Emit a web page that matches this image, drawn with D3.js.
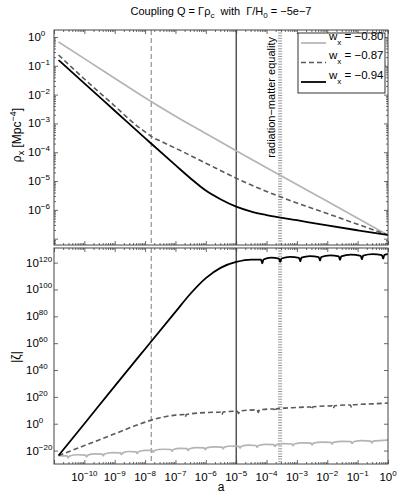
<!DOCTYPE html>
<html>
<head>
<meta charset="utf-8">
<script src="https://cdn.jsdelivr.net/npm/d3@7"></script>
<style>
body { margin: 0; background: #fff; }
text { font-family: "Liberation Sans", Arial, Helvetica, sans-serif; fill: #000; }
</style>
</head>
<body>
<div id="chart-area"></div>
<script>
// ---- data (log10 values) ----
var seriesNames = ["-0.80", "-0.87", "-0.94"];

// top panel: rho_x
var rhoGreyLogA  = [-10.85, -10, -9, -8, -7, -6, -5, -4, -3, -2, -1, 0];
var rhoGreyLog   = [-0.17, -0.75, -1.43, -2.11, -2.75, -3.35, -3.95, -4.54, -5.12, -5.70, -6.29, -6.875];
var rhoDashLogA  = [-10.85, -10, -9, -8.32, -7.99, -7.8, -7.5, -7, -6, -5, -4.5, -4, -3, -2, -1, 0];
var rhoDashLog   = [-0.625, -1.458, -2.396, -3.04, -3.30, -3.45, -3.61, -3.86, -4.38, -4.90, -5.14, -5.36, -5.76, -6.13, -6.50, -6.875];
var rhoBlackLogA = [-10.85, -10, -9, -8, -7, -6.5, -6, -5.5, -5, -4.5, -4, -3, -2, -1, 0];
var rhoBlackLog  = [-0.80, -1.61, -2.56, -3.51, -4.45, -4.91, -5.33, -5.64, -5.89, -6.06, -6.18, -6.36, -6.54, -6.71, -6.875];

// bottom panel: |zeta|
var zetaGreyLogA = [-10.85,
  -10.57, -10.53, -10.49, -10.23, -9.97, -9.93, -9.89, -9.65, -9.42, -9.38, -9.34, -9.08,
  -8.82, -8.78, -8.74, -8.52, -8.30, -8.26, -8.22, -8.0, -7.77, -7.73, -7.69, -7.42,
  -7.15, -7.11, -7.07, -6.85, -6.62, -6.58, -6.54, -6.3, -6.06, -6.02, -5.98, -5.72,
  -5.47, -5.43, -5.39, -5.15, -4.91, -4.87, -4.83, -4.59, -4.35, -4.31, -4.27, -4.01,
  -3.76, -3.72, -3.68, -3.42, -3.17, -3.13, -3.09, -2.81, -2.54, -2.50, -2.46, -2.17,
  -1.88, -1.84, -1.80, -1.51, -1.22, -1.18, -1.14, -0.85, -0.57, -0.53, -0.49, 0];
var zetaGreyLog = [-23.7,
  -24.0, -25.4, -24.0, -23.1, -23.4, -24.7, -23.4, -22.4, -22.6, -23.9, -22.6, -21.5,
  -21.7, -23.0, -21.7, -20.7, -20.9, -22.2, -20.9, -19.8, -19.9, -21.2, -19.9, -19.0,
  -19.2, -20.5, -19.2, -18.4, -18.6, -19.9, -18.6, -17.8, -18.0, -19.3, -18.0, -17.2,
  -17.4, -18.7, -17.4, -16.6, -16.8, -18.1, -16.8, -16.0, -16.2, -17.5, -16.2, -15.4,
  -15.6, -16.9, -15.6, -14.8, -15.1, -16.4, -15.1, -14.3, -14.5, -15.8, -14.5, -13.7,
  -13.9, -15.2, -13.9, -13.1, -13.4, -14.7, -13.4, -12.6, -13.0, -14.3, -13.0, -12.2];
var zetaDashLogA = [-10.85, -10, -9, -8, -7.5, -7, -6.72, -6.68, -6.64, -6, -5.51, -5.47, -5.43,
  -4.96, -4.92, -4.88, -4.31, -4.27, -4.23, -3.76, -3.72, -3.68, -3, -2.55, -2.51, -2.47,
  -1.84, -1.80, -1.76, -1.24, -1.20, -1.16, -0.5, 0];
var zetaDashLog = [-23.7, -16.3, -7.5, 1.2, 4.5, 6.4, 6.8, 4.9, 6.9, 8.3, 8.6, 6.7, 8.7,
  9.3, 7.6, 9.5, 10.3, 8.4, 10.4, 11.0, 9.1, 11.1, 12.1, 12.5, 10.6, 12.6,
  13.3, 11.4, 13.4, 14.0, 12.1, 14.1, 14.8, 15.4];
var zetaBlackLogA = [-10.85, -10, -9, -8, -7, -6.5, -6, -5.5, -5, -4.5,
  -4.18, -4.14, -4.10, -3.85, -3.59, -3.55, -3.51, -3.22, -2.93, -2.89, -2.85, -2.57,
  -2.28, -2.24, -2.20, -1.91, -1.62, -1.58, -1.54, -1.22, -0.90, -0.86, -0.82, -0.51,
  -0.20, -0.16, -0.12, 0];
var zetaBlackLog = [-23.7, 0, 28, 55.7, 83.3, 97, 108.5, 116.3, 120.5, 122.3,
  122.2, 119.5, 122.3, 123.7, 123.0, 120.5, 123.1, 124.3, 123.6, 121.0, 123.7, 124.9,
  124.1, 121.5, 124.2, 125.4, 124.6, 122.0, 124.7, 125.9, 125.1, 122.5, 125.2, 126.3,
  125.6, 123.0, 125.7, 126.3];

// vertical markers (a values)
var markDashedA = 1.6e-8;
var markSolidA = 1e-5;
var markEqualityA = 2.8e-4;

var xTickExp = [-10, -9, -8, -7, -6, -5, -4, -3, -2, -1, 0];
var yTopTickExp = [0, -1, -2, -3, -4, -5, -6];
var yBotTickExp = [-20, 0, 20, 40, 60, 80, 100, 120];

// ---- layout ----
var width = 399, height = 499;
var left = 54, right = 388;
var top1 = 30, bot1 = 245, top2 = 248, bot2 = 464;

var svg = d3.select("#chart-area").append("svg")
    .attr("width", width)
    .attr("height", height);

var x = d3.scaleLog().domain([1e-11, 1]).range([left, right]);
var yTop = d3.scaleLog().domain([Math.pow(10, -7.22), Math.pow(10, 0.243)]).range([bot1, top1]);
var yBot = d3.scaleLog().domain([1e-30, Math.pow(10, 130.9)]).range([bot2, top2]);

function pts(la, lv) {
    return la.map(function(d, i) { return [Math.pow(10, d), Math.pow(10, lv[i])]; });
}

var styles = [
    { color: "#b4b4b4", dash: null, w: 1.7 },
    { color: "#5a5a5a", dash: "5,3", w: 1.6 },
    { color: "#000", dash: null, w: 1.8 }
];

// clip paths
var defs = svg.append("defs");
defs.append("clipPath").attr("id", "clipTop").append("rect")
    .attr("x", left).attr("y", top1).attr("width", right - left).attr("height", bot1 - top1);
defs.append("clipPath").attr("id", "clipBot").append("rect")
    .attr("x", left).attr("y", top2).attr("width", right - left).attr("height", bot2 - top2);

// vertical marker lines across both panels
function vline(a, y0, y1, color, w, dash) {
    svg.append("line")
        .attr("x1", x(a)).attr("x2", x(a))
        .attr("y1", y0).attr("y2", y1)
        .attr("stroke", color).attr("stroke-width", w)
        .attr("stroke-dasharray", dash);
}
[[top1, bot1], [top2, bot2]].forEach(function(r) {
    vline(markDashedA, r[0], r[1], "#9a9a9a", 1.3, "5,3");
    vline(markSolidA, r[0], r[1], "#000", 1, null);
    vline(markEqualityA, r[0], r[1], "#9a9a9a", 4, "1,1.6");
});

// curves
function drawSeries(clip, yScale, data) {
    var g = svg.append("g").attr("clip-path", "url(#" + clip + ")");
    var line = d3.line()
        .x(function(d) { return x(d[0]); })
        .y(function(d) { return yScale(d[1]); })
        .curve(d3.curveMonotoneX);
    data.forEach(function(d, i) {
        g.append("path")
            .attr("d", line(d))
            .attr("fill", "none")
            .attr("stroke", styles[i].color)
            .attr("stroke-width", styles[i].w)
            .attr("stroke-dasharray", styles[i].dash);
    });
}
drawSeries("clipTop", yTop, [pts(rhoGreyLogA, rhoGreyLog), pts(rhoDashLogA, rhoDashLog), pts(rhoBlackLogA, rhoBlackLog)]);
drawSeries("clipBot", yBot, [pts(zetaGreyLogA, zetaGreyLog), pts(zetaDashLogA, zetaDashLog), pts(zetaBlackLogA, zetaBlackLog)]);

// ---- axes ----
var xMajor = [], xMinor = [];
for (var e = -11; e <= 0; e++) {
    xMajor.push(Math.pow(10, e));
    if (e < 0) for (var m = 2; m <= 9; m++) xMinor.push(m * Math.pow(10, e));
}

function frame(y0, y1) {
    svg.append("rect")
        .attr("x", left).attr("y", y0)
        .attr("width", right - left).attr("height", y1 - y0)
        .attr("fill", "none").attr("stroke", "#444").attr("stroke-width", 1);
}

function xTicks(y0, y1) {
    var gb = svg.append("g").attr("transform", "translate(0," + y1 + ")");
    gb.call(d3.axisBottom(x).tickValues(xMajor).tickSize(-4).tickFormat(""));
    gb.append("g").call(d3.axisBottom(x).tickValues(xMinor).tickSize(-2).tickFormat(""));
    var gt = svg.append("g").attr("transform", "translate(0," + y0 + ")");
    gt.call(d3.axisTop(x).tickValues(xMajor).tickSize(-4).tickFormat(""));
    gt.append("g").call(d3.axisTop(x).tickValues(xMinor).tickSize(-2).tickFormat(""));
}

function yTicks(scale, majors, minors) {
    var gl = svg.append("g").attr("transform", "translate(" + left + ",0)");
    gl.call(d3.axisLeft(scale).tickValues(majors).tickSize(-4).tickFormat(""));
    var gr = svg.append("g").attr("transform", "translate(" + right + ",0)");
    gr.call(d3.axisRight(scale).tickValues(majors).tickSize(-4).tickFormat(""));
    if (minors) {
        gl.append("g").call(d3.axisLeft(scale).tickValues(minors).tickSize(-2).tickFormat(""));
        gr.append("g").call(d3.axisRight(scale).tickValues(minors).tickSize(-2).tickFormat(""));
    }
}

var yTopMajor = [], yTopMinor = [];
for (var e2 = -8; e2 <= 0; e2++) {
    yTopMajor.push(Math.pow(10, e2));
    for (var m2 = 2; m2 <= 9; m2++) {
        var v = m2 * Math.pow(10, e2);
        if (v < yTop.domain()[1] && v > yTop.domain()[0]) yTopMinor.push(v);
    }
}
yTopMajor = yTopMajor.filter(function(v) { return v > yTop.domain()[0]; });

xTicks(top1, bot1);
xTicks(top2, bot2);
yTicks(yTop, yTopMajor, yTopMinor);
yTicks(yBot, yBotTickExp.map(function(e) { return Math.pow(10, e); }), null);
frame(top1, bot1);
frame(top2, bot2);

svg.selectAll(".domain").remove();
svg.selectAll(".tick line").attr("stroke", "#444").attr("stroke-width", 0.8);

// tick labels "10^n"
function powLabel(xp, yp, exp, anchor) {
    var t = svg.append("text")
        .attr("x", xp).attr("y", yp)
        .attr("font-size", 11.5)
        .attr("text-anchor", anchor);
    t.append("tspan").text("10");
    t.append("tspan").attr("font-size", 8).attr("dy", -5).text(String(exp).replace("-", "\u2212"));
}
xTickExp.forEach(function(e) { powLabel(x(Math.pow(10, e)), 481, e, "middle"); });
yTopTickExp.forEach(function(e) { powLabel(28, yTop(Math.pow(10, e)) + 4, e, "start"); });
yBotTickExp.forEach(function(e) { powLabel(26, yBot(Math.pow(10, e)) + 4, e, "start"); });

// title
var title = svg.append("text")
    .attr("x", 221).attr("y", 15)
    .attr("text-anchor", "middle")
    .attr("font-size", 11);
title.append("tspan").text("Coupling Q = \u0393\u03c1");
title.append("tspan").attr("font-size", 8).attr("dy", 3).text("c");
title.append("tspan").attr("dy", -3).text("\u00a0 with \u00a0\u0393/H");
title.append("tspan").attr("font-size", 8).attr("dy", 3).text("0");
title.append("tspan").attr("dy", -3).text(" = \u22125e\u22127");

// axis labels
var yl1 = svg.append("text")
    .attr("transform", "translate(21,135) rotate(-90)")
    .attr("text-anchor", "middle")
    .attr("font-size", 12);
yl1.append("tspan").text("\u03c1");
yl1.append("tspan").attr("font-size", 9).attr("dy", 3).text("x");
yl1.append("tspan").attr("dy", -3).text(" [Mpc");
yl1.append("tspan").attr("font-size", 9).attr("dy", -5).text("\u22124");
yl1.append("tspan").attr("dy", 5).text("]");

svg.append("text")
    .attr("transform", "translate(20,357) rotate(-90)")
    .attr("text-anchor", "middle")
    .attr("font-size", 12)
    .text("|\u03b6|");

svg.append("text")
    .attr("x", 221).attr("y", 491)
    .attr("text-anchor", "middle")
    .attr("font-size", 12)
    .text("a");

// radiation-matter label
svg.append("text")
    .attr("transform", "translate(275,37) rotate(-90)")
    .attr("text-anchor", "end")
    .attr("font-size", 11)
    .text("radiation\u2212matter equality");

// legend
var leg = svg.append("g");
leg.append("rect")
    .attr("x", 298).attr("y", 33).attr("width", 87).attr("height", 60)
    .attr("fill", "#fff").attr("stroke", "#000").attr("stroke-width", 0.8);
seriesNames.forEach(function(name, i) {
    var yy = 43 + i * 19.5;
    leg.append("line")
        .attr("x1", 301).attr("x2", 326).attr("y1", yy).attr("y2", yy)
        .attr("stroke", styles[i].color).attr("stroke-width", styles[i].w)
        .attr("stroke-dasharray", styles[i].dash);
    var t = leg.append("text").attr("x", 329).attr("y", yy - 3.5).attr("font-size", 11.5);
    t.append("tspan").text("w");
    t.append("tspan").attr("font-size", 8).attr("dy", 5).text("x");
    t.append("tspan").attr("dy", -5).text(" = " + name.replace("-", "\u2212"));
});
</script>
</body>
</html>
